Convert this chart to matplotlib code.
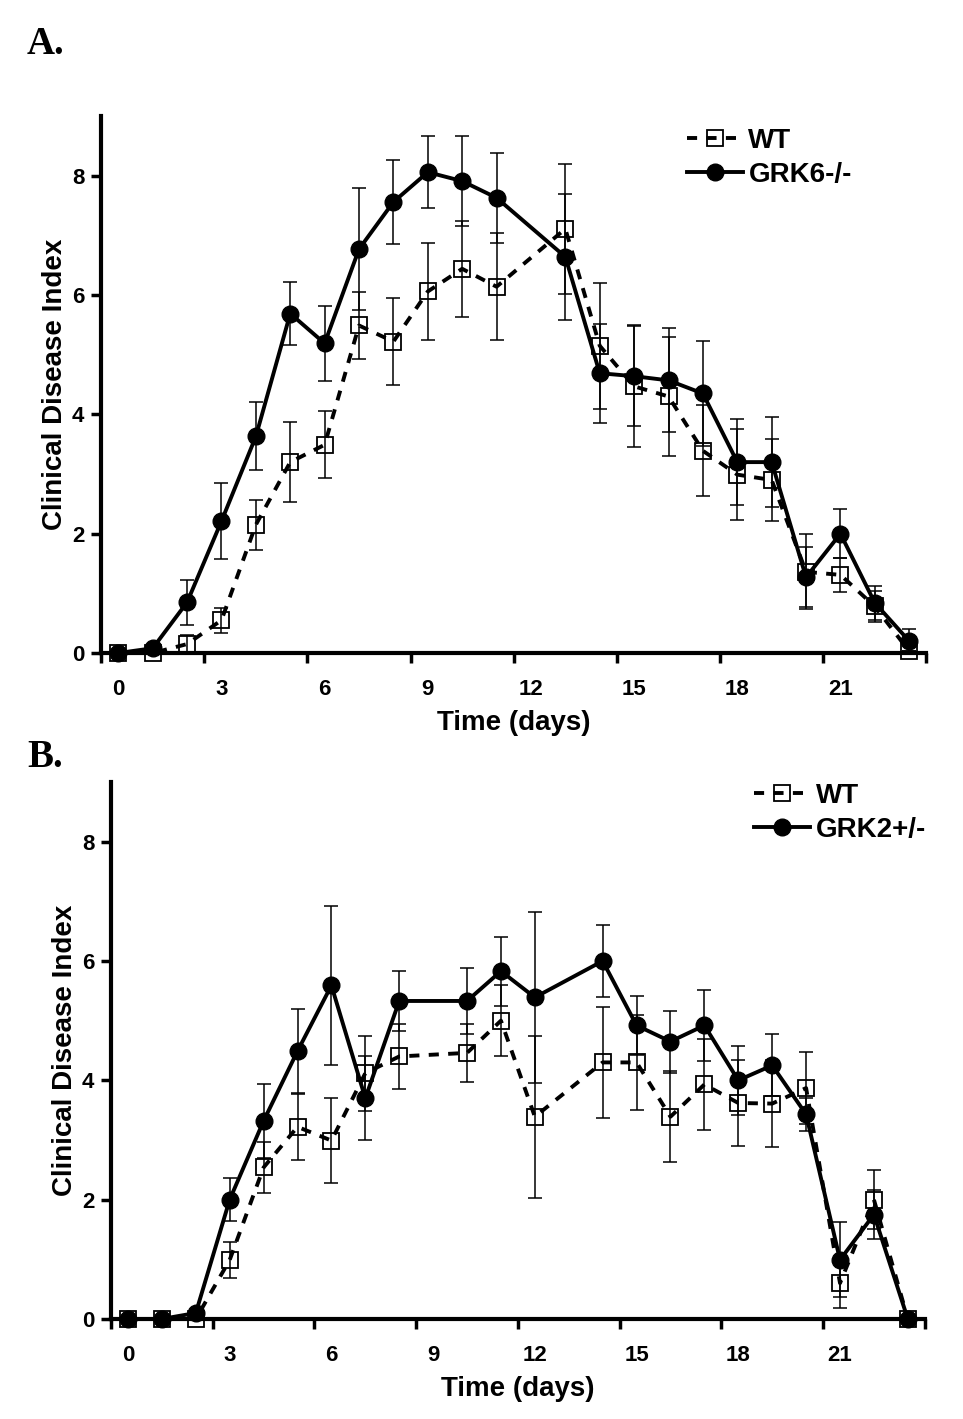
import matplotlib.pyplot as plt
from matplotlib.ticker import FixedLocator, NullFormatter

# ---- panel A data ----
days_a = [0, 1, 2, 3, 4, 5, 6, 7, 8, 9, 10, 11, 13, 14, 15, 16, 17, 18, 19, 20, 21, 22, 23]
wt_a = [0, 0, 0.15, 0.55, 2.15, 3.2, 3.49, 5.49, 5.22, 6.06, 6.44, 6.14, 7.11,
        5.15, 4.47, 4.3, 3.39, 2.99, 2.9, 1.36, 1.31, 0.78, 0.03]
wt_a_err = [0, 0, 0.15, 0.21, 0.42, 0.67, 0.56, 0.56, 0.73, 0.82, 0.8, 0.9, 1.09,
            1.06, 1.02, 1.0, 0.76, 0.76, 0.69, 0.63, 0.28, 0.26, 0]
grk6 = [0, 0.08, 0.85, 2.21, 3.63, 5.69, 5.19, 6.77, 7.56, 8.06, 7.91, 7.63, 6.64,
        4.69, 4.64, 4.57, 4.35, 3.2, 3.2, 1.27, 2.0, 0.84, 0.2]
grk6_err = [0, 0.05, 0.38, 0.64, 0.57, 0.53, 0.63, 1.02, 0.71, 0.6, 0.75, 0.75, 1.05,
            0.83, 0.84, 0.87, 0.88, 0.72, 0.75, 0.5, 0.41, 0.28, 0.2]

# ---- panel B data ----
days_b = [0, 1, 2, 3, 4, 5, 6, 7, 8, 10, 11, 12, 14, 15, 16, 17, 18, 19, 20, 21, 22, 23]
wt_b = [0, 0, 0, 0.99, 2.54, 3.22, 2.99, 4.12, 4.4, 4.46, 5.0, 3.39,
        4.3, 4.3, 3.39, 3.93, 3.62, 3.61, 3.87, 0.6, 2.0, 0]
wt_b_err = [0, 0, 0, 0.3, 0.43, 0.55, 0.71, 0.63, 0.54, 0.48, 0.6, 1.36,
            0.93, 0.8, 0.76, 0.77, 0.72, 0.73, 0.6, 0.41, 0.5, 0]
grk2 = [0, 0, 0.1, 2.0, 3.32, 4.49, 5.59, 3.7, 5.33, 5.33, 5.83, 5.39,
        6.0, 4.92, 4.65, 4.92, 4.0, 4.25, 3.43, 0.99, 1.75, 0]
grk2_err = [0, 0, 0, 0.36, 0.62, 0.71, 1.34, 0.7, 0.51, 0.56, 0.58, 1.43,
            0.61, 0.5, 0.52, 0.6, 0.58, 0.52, 0.28, 0.63, 0.41, 0]

label_days = [0, 3, 6, 9, 12, 15, 18, 21]
y_ticks = [0, 2, 4, 6, 8]

plt.rcParams['font.family'] = ['Liberation Sans', 'DejaVu Sans']
plt.rcParams['font.weight'] = 'bold'

fig = plt.figure(figsize=(9.63, 14.19), dpi=100)


def draw_panel(ax, days, wt, wt_err, ko, ko_err, ko_name):
    ax.errorbar(days, wt, yerr=wt_err, fmt='none', ecolor='black',
                elinewidth=1.1, capsize=5, capthick=1.1, zorder=2, clip_on=False)
    ax.errorbar(days, ko, yerr=ko_err, fmt='none', ecolor='black',
                elinewidth=1.1, capsize=5, capthick=1.1, zorder=2, clip_on=False)
    ax.plot(days, wt, color='black', lw=2.8, ls=(0, (2.6, 2.4)),
            marker='s', ms=11, mfc='none', mec='black', mew=1.3,
            label='WT', zorder=3, clip_on=False)
    ax.plot(days, ko, color='black', lw=2.8, ls='-',
            marker='o', ms=12, mfc='black', mec='black',
            label=ko_name, zorder=4, clip_on=False)

    ax.set_xlim(-0.5, 23.5)
    ax.set_ylim(0, 9)
    for s in ['top', 'right']:
        ax.spines[s].set_visible(False)
    for s in ['left', 'bottom']:
        ax.spines[s].set_linewidth(3)

    # tick marks sit between the day labels
    ax.xaxis.set_major_locator(FixedLocator([-0.5 + 3 * k for k in range(9)]))
    ax.xaxis.set_major_formatter(NullFormatter())
    ax.xaxis.set_minor_locator(FixedLocator(label_days))
    ax.set_xticklabels([str(d) for d in label_days], minor=True)
    ax.tick_params(axis='x', which='major', direction='out', length=7, width=2.5)
    ax.tick_params(axis='x', which='minor', length=0, pad=19, labelsize=16)
    ax.set_yticks(y_ticks)
    ax.tick_params(axis='y', direction='out', length=7, width=2.5, pad=5, labelsize=16)
    for t in ax.get_xticklabels(minor=True) + ax.get_yticklabels():
        t.set_fontweight('bold')

    ax.set_xlabel('Time (days)', fontsize=20, fontweight='bold', labelpad=7)
    ax.set_ylabel('Clinical Disease Index', fontsize=20, fontweight='bold', labelpad=3)


ax_a = fig.add_axes([0.105, 0.5398, 0.857, 0.3784])
draw_panel(ax_a, days_a, wt_a, wt_a_err, grk6, grk6_err, 'GRK6-/-')
ax_a.legend(loc='upper left', bbox_to_anchor=(0.68, 1.025), frameon=False,
            numpoints=1, handlelength=2.0, handletextpad=0.2, labelspacing=0.3,
            prop={'size': 20, 'weight': 'bold'})

ax_b = fig.add_axes([0.1153, 0.0705, 0.845, 0.3784])
draw_panel(ax_b, days_b, wt_b, wt_b_err, grk2, grk2_err, 'GRK2+/-')
ax_b.legend(loc='upper left', bbox_to_anchor=(0.76, 1.045), frameon=False,
            numpoints=1, handlelength=2.0, handletextpad=0.2, labelspacing=0.3,
            prop={'size': 20, 'weight': 'bold'})

fig.text(27 / 963, 1 - 54 / 1419, 'A.', family='Liberation Serif',
         fontweight='bold', fontsize=28, va='baseline')
fig.text(27 / 963, 1 - 767 / 1419, 'B.', family='Liberation Serif',
         fontweight='bold', fontsize=28, va='baseline')

fig.savefig('out.png', dpi=100)
